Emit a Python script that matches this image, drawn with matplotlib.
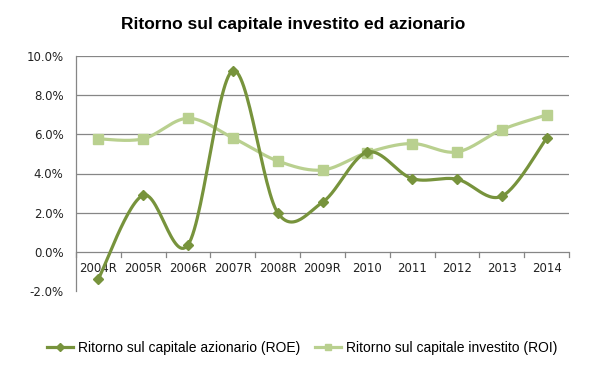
import numpy as np
import matplotlib
matplotlib.use("Agg")
import matplotlib.pyplot as plt
from matplotlib.lines import Line2D

categories = ["2004R", "2005R", "2006R", "2007R", "2008R", "2009R",
              "2010", "2011", "2012", "2013", "2014"]
roe = [-1.38, 2.89, 0.36, 9.25, 2.00, 2.53, 5.09, 3.74, 3.71, 2.84, 5.80]
roi = [5.77, 5.77, 6.82, 5.82, 4.64, 4.18, 5.07, 5.53, 5.10, 6.24, 6.99]
yticks = [-2, 0, 2, 4, 6, 8, 10]

roe_label = "Ritorno sul capitale azionario (ROE)"
roi_label = "Ritorno sul capitale investito (ROI)"
title = "Ritorno sul capitale investito ed azionario"

c_roe = "#77933C"
c_roi = "#B9D08F"


def smooth(x, y, n=30):
    x = np.asarray(x, float)
    y = np.asarray(y, float)
    xs, ys = [], []
    N = len(x)
    for i in range(N - 1):
        p0 = np.array([x[max(i - 1, 0)], y[max(i - 1, 0)]])
        p1 = np.array([x[i], y[i]])
        p2 = np.array([x[i + 1], y[i + 1]])
        p3 = np.array([x[min(i + 2, N - 1)], y[min(i + 2, N - 1)]])
        c1 = p1 + (p2 - p0) / 6.0
        c2 = p2 - (p3 - p1) / 6.0
        t = np.linspace(0, 1, n)[:, None]
        pts = ((1 - t) ** 3) * p1 + 3 * ((1 - t) ** 2) * t * c1 + 3 * (1 - t) * t ** 2 * c2 + t ** 3 * p2
        xs.extend(pts[:, 0])
        ys.extend(pts[:, 1])
    return np.array(xs), np.array(ys)


fig = plt.figure(figsize=(5.97, 3.69), dpi=100)
ax = fig.add_axes([76 / 597, 1 - 291 / 369, (569 - 76) / 597, (291 - 56) / 369])

x = np.arange(len(categories))
sx, sy = smooth(x, roi)
ax.plot(sx, sy, color=c_roi, lw=2.3, zorder=3, solid_capstyle="round")
ax.plot(x, roi, ls="none", marker="s", ms=7.3, color=c_roi, zorder=4)
sx, sy = smooth(x, roe)
ax.plot(sx, sy, color=c_roe, lw=2.3, zorder=5, solid_capstyle="round")
ax.plot(x, roe, ls="none", marker="D", ms=5.2, color=c_roe, zorder=6)

ax.set_xlim(-0.5, len(categories) - 0.5)
ax.set_ylim(-2, 10)
ax.set_yticks(yticks)
ax.set_yticklabels([f"{v:.1f}%" for v in yticks], fontsize=8.5, family="DejaVu Sans", color="#222222")
ax.tick_params(axis="y", length=0, pad=9)
for v in yticks[1:]:
    ax.axhline(v, color="#868686", lw=0.9, zorder=1)

for s in ["top", "right", "bottom"]:
    ax.spines[s].set_visible(False)
ax.spines["left"].set_color("#868686")
ax.spines["left"].set_linewidth(0.9)

ax.set_xticks([])
for xi, lab in zip(x, categories):
    ax.text(xi, -0.5, lab, ha="center", va="top", fontsize=8.5, family="DejaVu Sans", color="#222222")
for b in np.arange(-0.5, len(categories), 1.0):
    ax.plot([b, b], [0, -0.28], color="#868686", lw=0.9, zorder=1, clip_on=False)

fig.text(293 / 597, 1 - 25 / 369, title, ha="center", va="center",
         fontsize=12.5, fontweight="bold", family="Liberation Sans")

handles = [
    Line2D([], [], color=c_roe, lw=2.3, marker="D", ms=4),
    Line2D([], [], color=c_roi, lw=2.3, marker="s", ms=5),
]
fig.legend(handles, [roe_label, roi_label], loc="center", bbox_to_anchor=(302 / 597, 1 - 348 / 369),
           ncol=2, frameon=False, handlelength=1.9, handletextpad=0.3,
           columnspacing=1.1, prop={"family": "Liberation Sans", "size": 10})

fig.savefig("out.png", dpi=100, facecolor="white")
